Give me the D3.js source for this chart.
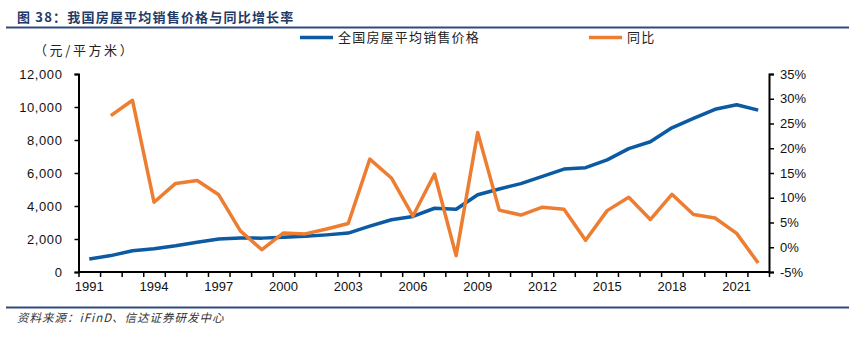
<!DOCTYPE html>
<html><head><meta charset="utf-8">
<script src="https://cdn.jsdelivr.net/npm/d3@7"></script>
<style>
html,body{margin:0;padding:0;background:#fff;}
svg{display:block;}
</style></head>
<body>
<svg id="c" width="849" height="339"></svg>
<script>
const years = [1991,1992,1993,1994,1995,1996,1997,1998,1999,2000,2001,2002,2003,2004,2005,2006,2007,2008,2009,2010,2011,2012,2013,2014,2015,2016,2017,2018,2019,2020,2021,2022];
const price = [786,995,1291,1409,1591,1806,1997,2063,2053,2112,2170,2250,2359,2778,3168,3367,3864,3800,4681,5032,5357,5791,6237,6324,6793,7476,7892,8737,9310,9860,10139,9813];
const yoy = [null,26.6,29.7,9.1,12.9,13.5,10.6,3.3,-0.5,2.9,2.7,3.7,4.8,17.8,14.0,6.3,14.8,-1.7,23.2,7.5,6.5,8.1,7.7,1.4,7.4,10.1,5.6,10.7,6.6,5.9,2.8,-3.2];
const leftTicks = [0,2000,4000,6000,8000,10000,12000];
const rightTicks = [-5,0,5,10,15,20,25,30,35];
const xLabelYears = [1991,1994,1997,2000,2003,2006,2009,2012,2015,2018,2021];
const seriesNames = ["全国房屋平均销售价格","同比"];
const titleText = "图 38：我国房屋平均销售价格与同比增长率";
const unitText = "（元/平方米）";
const sourceText = "资料来源：iFinD、信达证券研发中心";

const BLUE = "#0b5aa2", ORANGE = "#ed7d31", NAVY = "#2f4a7c";
const svg = d3.select("#c");
const L = 78.5, R = 769, T = 74, B = 272;
const numFont = "'Liberation Sans', Arial, sans-serif";
const cjkFont = "'Noto Sans CJK SC', sans-serif";

const x = d3.scaleBand().domain(years).range([L, R]).padding(0);
const xb = d3.scaleLinear().domain([0, years.length]).range([L, R]);
const yL = d3.scaleLinear().domain([0, 12000]).range([B, T]);
const yR = d3.scaleLinear().domain([-5, 35]).range([B, T]);

// title
svg.append("text").attr("x", 17).attr("y", 22).text(titleText)
  .attr("font-family", cjkFont).attr("font-weight", "bold").attr("font-size", 13)
  .attr("letter-spacing", 1.2).attr("fill", "#1f3a66");
svg.append("line").attr("x1", 6).attr("x2", 849).attr("y1", 27.5).attr("y2", 27.5)
  .attr("stroke", NAVY).attr("stroke-width", 2);

// unit
svg.append("text").attr("x", 34).attr("y", 55).text(unitText)
  .attr("font-family", cjkFont).attr("font-size", 13).attr("letter-spacing", 2.6).attr("fill", "#222");

// left axis
const gl = svg.append("g").attr("transform", `translate(${L},0)`)
  .call(d3.axisLeft(yL).tickValues(leftTicks).tickSize(4).tickPadding(12).tickFormat(d3.format(",")));
// right axis
const gr = svg.append("g").attr("transform", `translate(${R},0)`)
  .call(d3.axisRight(yR).tickValues(rightTicks).tickSize(5).tickPadding(6).tickFormat(d => d + "%"));
// x tick marks at boundaries
const gx = svg.append("g").attr("transform", `translate(0,${B})`)
  .call(d3.axisBottom(xb).tickValues(d3.range(0, years.length + 1)).tickSize(5).tickFormat(""));
// x labels
const gxl = svg.append("g").attr("transform", `translate(0,${B})`)
  .call(d3.axisBottom(x).tickValues(xLabelYears).tickSize(0).tickPadding(10));
gxl.select(".domain").remove();

[gl, gr, gx, gxl].forEach(g => {
  g.selectAll(".domain").attr("stroke", "#000").attr("stroke-width", 2);
  g.selectAll(".tick line").attr("stroke", "#000").attr("stroke-width", 1.5);
  g.selectAll("text").attr("font-family", numFont).attr("font-size", 13).attr("fill", "#111");
});
gl.selectAll("text").attr("letter-spacing", 0.6);
gx.select(".domain").attr("d", `M${L},0H${R}`);

// lines
const lineP = d3.line().x((d, i) => x(years[i]) + x.bandwidth() / 2).y(d => yL(d));
svg.append("path").datum(price).attr("d", lineP)
  .attr("fill", "none").attr("stroke", BLUE).attr("stroke-width", 3.5).attr("stroke-linejoin", "round");
const lineY = d3.line().defined(d => d != null).x((d, i) => x(years[i]) + x.bandwidth() / 2).y(d => yR(d));
svg.append("path").datum(yoy).attr("d", lineY)
  .attr("fill", "none").attr("stroke", ORANGE).attr("stroke-width", 3.5).attr("stroke-linejoin", "round");

// legend
const legend = [{name: seriesNames[0], color: BLUE, x: 300}, {name: seriesNames[1], color: ORANGE, x: 589}];
legend.forEach(l => {
  svg.append("line").attr("x1", l.x).attr("x2", l.x + 33).attr("y1", 37.5).attr("y2", 37.5)
    .attr("stroke", l.color).attr("stroke-width", 3.5);
  svg.append("text").attr("x", l.x + 38).attr("y", 42).text(l.name)
    .attr("font-family", cjkFont).attr("font-size", 13).attr("letter-spacing", 1.2).attr("fill", "#222");
});

// bottom rule & source
svg.append("line").attr("x1", 6).attr("x2", 849).attr("y1", 307.5).attr("y2", 307.5)
  .attr("stroke", NAVY).attr("stroke-width", 2);
svg.append("text").attr("x", 17).attr("y", 322).text(sourceText)
  .attr("font-family", cjkFont).attr("font-size", 11.5).attr("font-style", "italic")
  .attr("letter-spacing", 1).attr("fill", "#333");
</script>
</body></html>
